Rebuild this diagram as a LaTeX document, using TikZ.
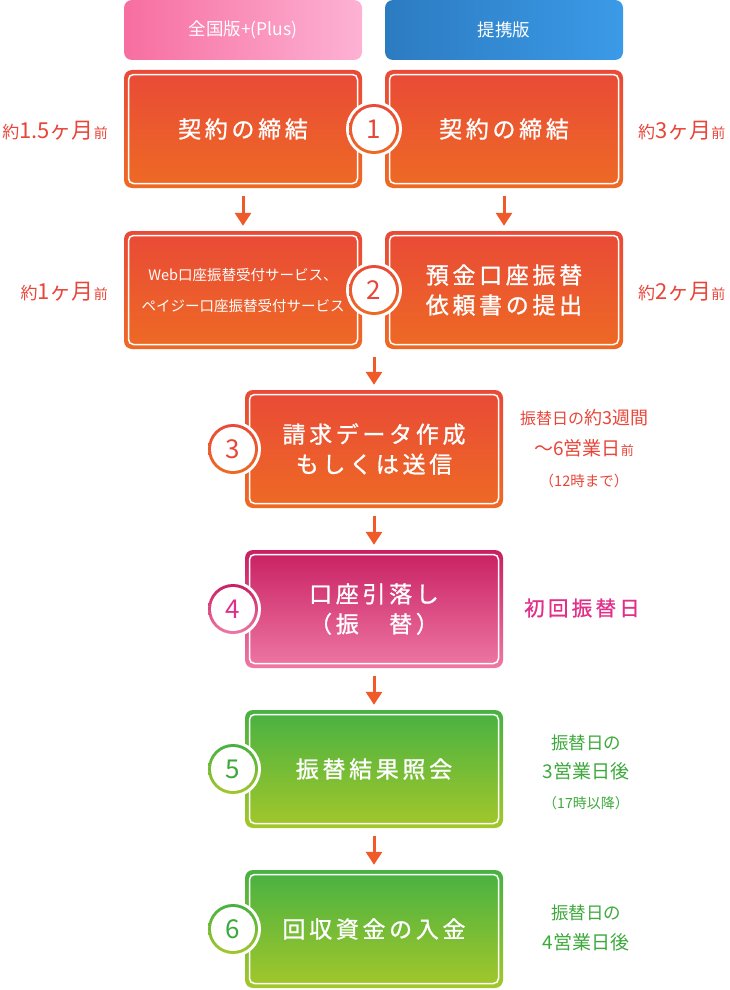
\documentclass[tikz,border=0pt]{standalone}
\usepackage{fontspec}
\setmainfont{Noto Sans CJK JP}
\newfontfamily\boxfont{Noto Sans CJK JP}[LetterSpace=16,FakeBold=1]
\usetikzlibrary{arrows.meta}
%% Colours
\definecolor{orangetop}{HTML}{E94A37}
\definecolor{orangebot}{HTML}{EE6A24}
\definecolor{pinktop}{HTML}{C81F62}
\definecolor{pinkbot}{HTML}{EE78A4}
\definecolor{greentop}{HTML}{47B142}
\definecolor{greenbot}{HTML}{A4C72A}
\definecolor{hpinkl}{HTML}{F76EA0}
\definecolor{hpinkr}{HTML}{FDB2D4}
\definecolor{hbluel}{HTML}{2C7BC1}
\definecolor{hbluer}{HTML}{3B9AE7}
\definecolor{arrowc}{HTML}{EE5A29}
\definecolor{sidered}{HTML}{E8463A}
\definecolor{sidepink}{HTML}{E2308A}
\definecolor{sidegreen}{HTML}{3DA93C}
\begin{document}
\begin{tikzpicture}[x=1pt,y=-1pt,
    hdr/.style={rounded corners=8pt, minimum width=238pt, minimum height=60pt,
        inner sep=0pt, text=white, font=\fontsize{17.5}{17.5}\selectfont},
    stepbox/.style={rounded corners=8pt, minimum width=238pt, minimum height=118pt,
        inner sep=0pt, align=center, text=white, font=\boxfont\fontsize{23}{30}\selectfont,
        path picture={\draw[white,line width=1.5pt,rounded corners=5pt]
            ([shift={(4.5pt,-4.5pt)}]path picture bounding box.north west) rectangle
            ([shift={(-4.5pt,4.5pt)}]path picture bounding box.south east);}},
    widebox/.style={minimum width=258pt},
    orangebox/.style={stepbox, top color=orangetop, bottom color=orangebot},
    pinkbox/.style={stepbox, widebox, top color=pinktop, bottom color=pinkbot},
    greenbox/.style={stepbox, widebox, top color=greentop, bottom color=greenbot},
    numcircle/.style={circle, minimum size=50pt, inner sep=0pt,
        preaction={draw=white,line width=6pt}, font=\fontsize{26}{26}\selectfont,
        path picture={\fill[white] (path picture bounding box.center) circle (22pt);}},
    orangenum/.style={numcircle, top color=orangetop, bottom color=orangebot, text=sidered},
    pinknum/.style={numcircle, top color=pinktop, bottom color=pinkbot, text=sidepink},
    greennum/.style={numcircle, top color=greentop, bottom color=greenbot, text=sidegreen},
    arr/.style={draw=arrowc, line width=3pt, -{Triangle[length=13pt,width=16pt]},
        shorten <=8pt, shorten >=5pt}]
    \useasboundingbox (0,0) rectangle (730,990);
    %% Headers
    \node[hdr, left color=hpinkl, right color=hpinkr] (hp) at (243,30) {全国版+(Plus)};
    \node[hdr, left color=hbluel, right color=hbluer] (hb) at (504,30) {提携版};
    %% Steps
    \node[orangebox] (b1l) at (243,129) {契約の締結};
    \node[orangebox] (b1r) at (504,129) {契約の締結};
    \node[orangebox, font=\fontsize{14.5}{31}\selectfont] (b2l) at (243,290)
        {Web口座振替受付サービス、\\ペイジー口座振替受付サービス};
    \node[orangebox] (b2r) at (504,290) {預金口座振替\\依頼書の提出};
    \node[orangebox, widebox] (b3) at (374,449) {請求データ作成\\もしくは送信};
    \node[pinkbox] (b4) at (374,609) {口座引落し\\（振　替）};
    \node[greenbox] (b5) at (374,769) {振替結果照会};
    \node[greenbox] (b6) at (374,929) {回収資金の入金};
    %% Numbers
    \node[orangenum] (n1) at (374,129) {1};
    \node[orangenum] (n2) at (374,290) {2};
    \node[orangenum] (n3) at (233,449) {3};
    \node[pinknum] (n4) at (233,609) {4};
    \node[greennum] (n5) at (233,769) {5};
    \node[greennum] (n6) at (233,929) {6};
    %% Arrows
    \draw[arr] (b1l) -- (b2l);
    \draw[arr] (b1r) -- (b2r);
    \draw[arr] (n2 |- b2l.south) -- (b3);
    \draw[arr] (b3) -- (b4);
    \draw[arr] (b4) -- (b5);
    \draw[arr] (b5) -- (b6);
    %% Timing
    \node[anchor=east, text=sidered, inner sep=0pt] (t1l) at (108,131)
        {{\fontsize{17}{17}\selectfont 約}{\fontsize{22}{22}\selectfont 1.5ヶ月}{\fontsize{14}{14}\selectfont 前}};
    \node[anchor=west, text=sidered, inner sep=0pt] (t1r) at (638,131)
        {{\fontsize{17}{17}\selectfont 約}{\fontsize{22}{22}\selectfont 3ヶ月}{\fontsize{14}{14}\selectfont 前}};
    \node[anchor=east, text=sidered, inner sep=0pt] (t2l) at (108,292)
        {{\fontsize{17}{17}\selectfont 約}{\fontsize{22}{22}\selectfont 1ヶ月}{\fontsize{14}{14}\selectfont 前}};
    \node[anchor=west, text=sidered, inner sep=0pt] (t2r) at (638,292)
        {{\fontsize{17}{17}\selectfont 約}{\fontsize{22}{22}\selectfont 2ヶ月}{\fontsize{14}{14}\selectfont 前}};
    \node[text=sidered, align=center, font=\fontsize{16}{31}\selectfont] (t3) at (584,449)
        {振替日の{\fontsize{18}{31}\selectfont 約3週間}\\{\fontsize{19}{31}\selectfont 〜6営業日}{\fontsize{13}{31}\selectfont 前}\\{\fontsize{14.5}{31}\selectfont （12時まで）}};
    \node[text=sidepink, font=\boxfont\fontsize{20.5}{20.5}\selectfont] (t4) at (582,608) {初回振替日};
    \node[text=sidegreen, align=center, font=\fontsize{17.5}{29.5}\selectfont] (t5) at (586,772)
        {振替日の\\{\fontsize{19}{29.5}\selectfont 3営業日後}\\{\fontsize{14}{29.5}\selectfont （17時以降）}};
    \node[text=sidegreen, align=center, font=\fontsize{17.5}{29.5}\selectfont] (t6) at (586,928)
        {振替日の\\{\fontsize{19}{29.5}\selectfont 4営業日後}};
\end{tikzpicture}
\end{document}
